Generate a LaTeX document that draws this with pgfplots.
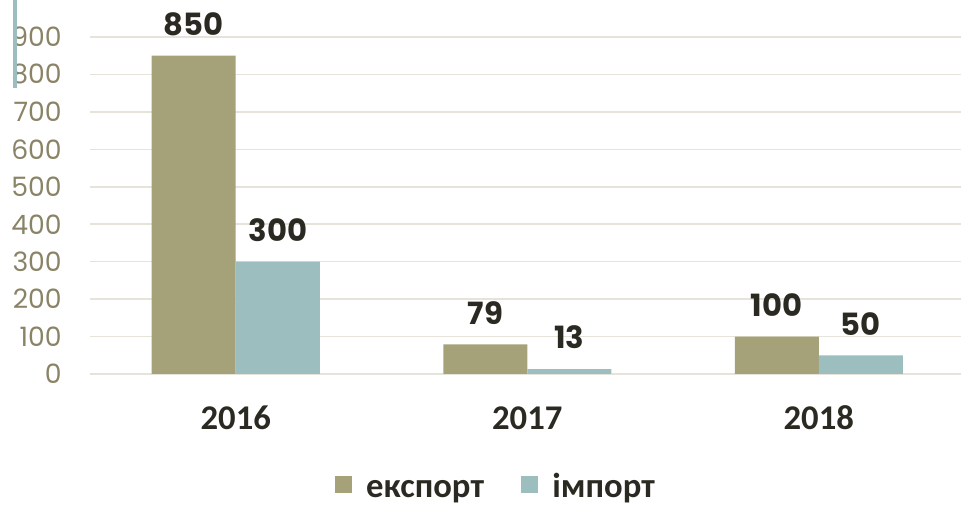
\documentclass[border=0pt]{standalone}
\usepackage{fontspec}
\setmainfont{Carlito}
\newfontfamily\pop{Poppins}
\usepackage{pgfplots}
\pgfplotsset{compat=1.18}
\definecolor{exportc}{HTML}{A5A27A}
\definecolor{importc}{HTML}{9DBEBE}
\definecolor{tickc}{HTML}{8A8366}
\definecolor{gridc}{HTML}{E6E3DA}
\definecolor{darkc}{HTML}{2B2A22}

\begin{document}
\begin{tikzpicture}
\begin{axis}[
  scale only axis,
  width=655.875pt, height=252.75pt,
  ybar=0pt, bar width=63pt,
  xmin=-0.5, xmax=2.5,
  ymin=0, ymax=900,
  xtick={0,1,2},
  xticklabels={2016,2017,2018},
  ytick={0,100,...,900},
  axis line style={draw=none},
  major tick length=0pt,
  ymajorgrids, grid style={gridc, line width=1.1pt},
  /pgf/number format/assume math mode=true,
  yticklabel style={font=\pop\fontsize{20}{20}\selectfont, text=tickc, anchor=east, inner sep=0pt, xshift=-21pt},
  xticklabel style={font=\fontsize{26}{26}\selectfont\bfseries, text=darkc, anchor=base, inner sep=0pt, yshift=-42pt},
  nodes near coords,
  nodes near coords style={font=\pop\bfseries\fontsize{23}{23}\selectfont, text=darkc, anchor=south, inner sep=0pt, yshift=15pt},
  legend columns=-1,
  legend style={draw=none, fill=none, at={(0.2755,-0.345)}, anchor=west,
    font=\fontsize{26}{26}\selectfont\bfseries, text=darkc,
    nodes={inner sep=0pt, text height=14pt, text depth=5pt},
    /tikz/every odd column/.append style={column sep=10.5pt},
    /tikz/every even column/.append style={column sep=28pt}},
]
\addplot[fill=exportc, draw=none,
  legend image code/.code={\fill[exportc] (0pt,-1pt) rectangle (12.75pt,11.75pt);}]
  coordinates {(0,850) (1,79) (2,100)};
\addplot[fill=importc, draw=none,
  legend image code/.code={\fill[importc] (0pt,-1pt) rectangle (12.75pt,11.75pt);}]
  coordinates {(0,300) (1,13) (2,50)};
\legend{експорт, імпорт}
\end{axis}
\fill[importc] (-58pt,214.5pt) rectangle (-54.5pt,280.5pt);
\pgfresetboundingbox
\path[use as bounding box] (-67.5pt,-99pt) rectangle (653.25pt,280.5pt);
\end{tikzpicture}
\end{document}
